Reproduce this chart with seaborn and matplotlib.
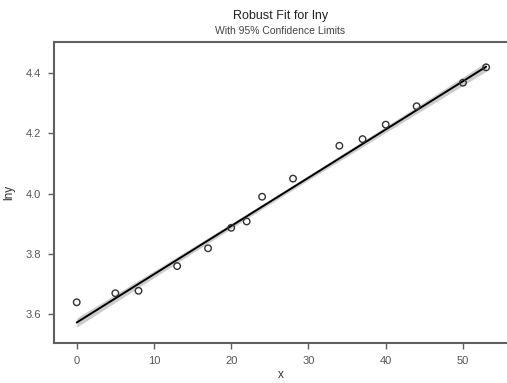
import numpy as np
import pandas as pd
import matplotlib
matplotlib.use("Agg")
import matplotlib.pyplot as plt
import seaborn as sns

x_vals = [0, 5, 8, 13, 17, 20, 22, 24, 28, 34, 37, 40, 44, 50, 53]
lny_vals = [3.64, 3.67, 3.678, 3.76, 3.819, 3.887, 3.908, 3.99, 4.05,
            4.159, 4.181, 4.229, 4.29, 4.368, 4.419]

# robust fit estimates
fit_intercept = 3.573
fit_slope = 0.0160
resid_scale = 0.014   # robust scale used for the confidence band
t_crit = 2.16

x_ticks = [0, 10, 20, 30, 40, 50]
y_ticks = [3.6, 3.8, 4.0, 4.2, 4.4]

df = pd.DataFrame({"x": x_vals, "lny": lny_vals})

# fitted line and 95% band
xs = np.array(x_vals, dtype=float)
xbar = xs.mean()
sxx = ((xs - xbar) ** 2).sum()
grid = np.linspace(min(x_vals), max(x_vals), 100)
fit = fit_intercept + fit_slope * grid
half = t_crit * resid_scale * np.sqrt(1 / len(xs) + (grid - xbar) ** 2 / sxx)
fit_df = pd.DataFrame({"x": grid, "fit": fit})

sns.set_style("white")
plt.rcParams["font.family"] = ["Liberation Sans", "DejaVu Sans"]

fig = plt.figure(figsize=(5.07, 3.83), dpi=100)
ax = fig.add_axes([54 / 507, 40 / 383, 470 / 507, 301 / 383])

ax.fill_between(grid, fit - half, fit + half, color="#cccccc", lw=0, zorder=1)
sns.lineplot(data=fit_df, x="x", y="fit", color="black", lw=1.4, ax=ax, zorder=2)
sns.scatterplot(data=df, x="x", y="lny", marker="o", s=22, facecolor="none",
                edgecolor="#333333", linewidth=1.0, ax=ax, zorder=3)

ax.set_xlim(-2.94, 57.9)
ax.set_ylim(3.505, 4.503)
ax.set_xticks(x_ticks)
ax.set_yticks(y_ticks)
ax.set_yticklabels([f"{v:.1f}" for v in y_ticks])

for s in ax.spines.values():
    s.set_color("#606060")
    s.set_linewidth(1.5)
ax.spines["right"].set_visible(False)
ax.tick_params(axis="both", direction="out", length=4, width=1, color="#606060",
               labelcolor="#555555", labelsize=8, pad=5,
               bottom=True, left=True)

ax.set_xlabel("x", fontsize=8.5, color="#333333")
ax.xaxis.set_label_coords((281 - 54) / 470, -0.085)
ax.set_ylabel("lny", fontsize=8.5, color="#333333", labelpad=8)

fig.text(280.5 / 507, 1 - 16 / 383, "Robust Fit for lny", ha="center", va="center",
         fontsize=9, color="#222222")
fig.text(280.5 / 507, 1 - 31 / 383, "With 95% Confidence Limits", ha="center",
         va="center", fontsize=7.5, color="#444444")

fig.savefig("out.png", dpi=100)
